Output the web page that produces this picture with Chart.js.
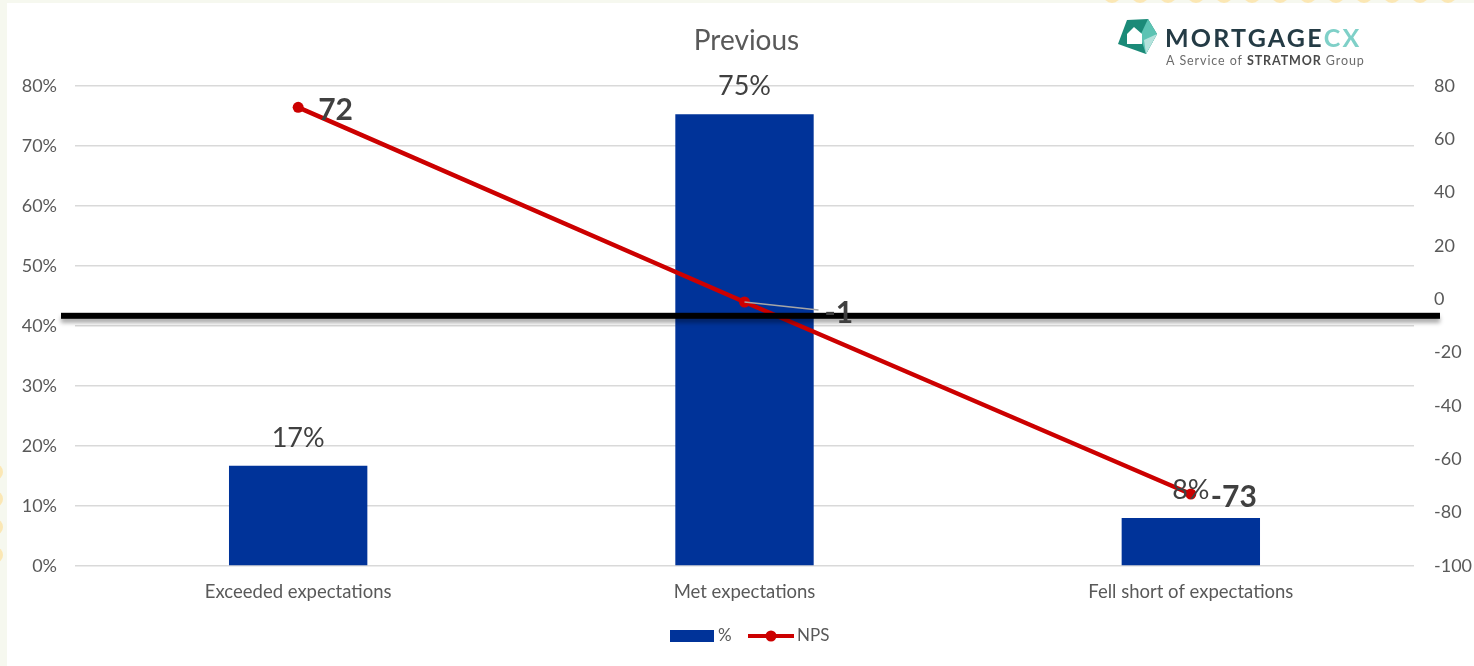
<!DOCTYPE html>
<html lang="en">
<head>
  <meta charset="UTF-8">
  <title>Previous</title>
  <script src="https://cdn.jsdelivr.net/npm/chart.js"></script>
  <style>
    html, body { margin: 0; padding: 0; background: #f6f8ef; }
    #chart { display: block; }
  </style>
</head>
<body>
  <canvas id="chart" width="1474" height="666"></canvas>
  <script>
    // data
    const categories = ['Exceeded expectations', 'Met expectations', 'Fell short of expectations'];
    const sharePct = [0.167, 0.753, 0.08];
    const shareLabels = ['17%', '75%', '8%'];
    const nps = [72, -1, -73];
    const leftTicks = [0, 0.1, 0.2, 0.3, 0.4, 0.5, 0.6, 0.7, 0.8];
    const rightTicks = [-100, -80, -60, -40, -20, 0, 20, 40, 60, 80];
    const referenceLinePct = 0.417;

    const FONT = 'Lato, "Open Sans", sans-serif';
    const BLUE = '#003399';
    const RED = '#cc0000';
    const TEXT = '#595959';

    const frame = {
      id: 'frame',
      beforeDraw(chart) {
        const c = chart.ctx;
        c.save();
        c.fillStyle = '#f6f8ef';
        c.fillRect(0, 0, chart.width, chart.height);
        // little yellow dots peeking in at the edges
        c.fillStyle = '#fbe7b4';
        for (let x = 1112; x < chart.width; x += 28) {
          c.beginPath(); c.arc(x, -6, 9, 0, Math.PI * 2); c.fill();
        }
        [472, 499, 527, 555].forEach(y => { c.beginPath(); c.arc(-5, y, 8, 0, Math.PI * 2); c.fill(); });
        c.fillStyle = '#ffffff';
        c.fillRect(7, 3, chart.width - 7, chart.height - 3);
        c.restore();
      }
    };

    const decorations = {
      id: 'decorations',
      afterDatasetsDraw(chart) {
        const c = chart.ctx;
        const area = chart.chartArea;
        const yL = chart.scales.y;
        c.save();

        // bar value labels
        const barMeta = chart.getDatasetMeta(0);
        c.font = '27px ' + FONT;
        c.fillStyle = '#404040';
        c.textAlign = 'center';
        c.textBaseline = 'middle';
        barMeta.data.forEach((bar, i) => {
          c.fillText(shareLabels[i], bar.x, bar.y - 28);
        });

        // black reference line with soft shadow
        const ly = yL.getPixelForValue(referenceLinePct);
        c.save();
        c.shadowColor = 'rgba(0,0,0,0.35)';
        c.shadowBlur = 4;
        c.shadowOffsetY = 4;
        c.fillStyle = '#000000';
        c.fillRect(area.left - 14, ly - 3, area.right - area.left + 40, 6);
        c.restore();

        // NPS labels
        const lineMeta = chart.getDatasetMeta(1);
        c.font = 'bold 30px ' + FONT;
        c.fillStyle = '#404040';
        c.textAlign = 'left';
        lineMeta.data.forEach((pt, i) => {
          let lx = pt.x + 20, lyy = pt.y + 3;
          if (i === 1) {
            lx = pt.x + 80; lyy = pt.y + 11;
            c.save();
            c.strokeStyle = '#a6a6a6';
            c.lineWidth = 1.5;
            c.beginPath(); c.moveTo(pt.x, pt.y); c.lineTo(lx - 6, pt.y + 8); c.stroke();
            c.restore();
          }
          c.fillText(String(nps[i]), lx, lyy);
        });

        c.restore();
      },
      afterDraw(chart) {
        const c = chart.ctx;
        const area = chart.chartArea;
        const cx = (area.left + area.right) / 2;
        c.save();

        // title
        c.font = '28px ' + FONT;
        c.fillStyle = TEXT;
        c.textAlign = 'center';
        c.textBaseline = 'middle';
        c.fillText('Previous', cx + 2, 41);

        // legend
        const legY = 636;
        c.fillStyle = BLUE;
        c.fillRect(670, legY - 6, 44, 12);
        c.font = '17px ' + FONT;
        c.fillStyle = TEXT;
        c.textAlign = 'left';
        c.fillText('%', 718, legY);
        c.strokeStyle = RED;
        c.lineWidth = 4;
        c.beginPath(); c.moveTo(748, legY); c.lineTo(794, legY); c.stroke();
        c.fillStyle = RED;
        c.beginPath(); c.arc(771, legY, 5.5, 0, Math.PI * 2); c.fill();
        c.fillStyle = TEXT;
        c.fillText('NPS', 797, legY);

        // logo
        c.fillStyle = '#1b8a78';
        c.beginPath();
        c.moveTo(1127, 20); c.lineTo(1148, 19); c.lineTo(1157, 34); c.lineTo(1146, 54); c.lineTo(1118, 44);
        c.closePath(); c.fill();
        c.fillStyle = '#5cc3b3';
        c.beginPath();
        c.moveTo(1148, 19); c.lineTo(1157, 34); c.lineTo(1146, 54); c.lineTo(1140, 36);
        c.closePath(); c.fill();
        c.fillStyle = '#b4e2dc';
        c.beginPath();
        c.moveTo(1157, 34); c.lineTo(1146, 54); c.lineTo(1144, 40);
        c.closePath(); c.fill();
        c.fillStyle = '#ffffff';
        c.beginPath();
        c.moveTo(1127, 34); c.lineTo(1134, 27); c.lineTo(1142, 34); c.lineTo(1142, 44); c.lineTo(1127, 44);
        c.closePath(); c.fill();

        c.textBaseline = 'alphabetic';
        c.font = 'bold 25px ' + FONT;
        c.letterSpacing = '2.2px';
        c.fillStyle = '#243b45';
        c.fillText('MORTGAGE', 1165, 47);
        const mw = c.measureText('MORTGAGE').width;
        c.fillStyle = '#7fd0c8';
        c.fillText('CX', 1165 + mw, 47);
        c.letterSpacing = '0.9px';
        c.font = '12.5px ' + FONT;
        c.fillStyle = '#6b6b6b';
        c.fillText('A Service of ', 1166, 65);
        let w = c.measureText('A Service of ').width;
        c.font = 'bold 12.5px ' + FONT;
        c.fillStyle = '#4a4a4a';
        c.fillText('STRATMOR', 1166 + w, 65);
        w += c.measureText('STRATMOR').width;
        c.font = '12.5px ' + FONT;
        c.fillStyle = '#6b6b6b';
        c.fillText(' Group', 1166 + w, 65);
        c.restore();
      }
    };

    new Chart(document.getElementById('chart'), {
      data: {
        labels: categories,
        datasets: [
          {
            type: 'bar',
            label: '%',
            data: sharePct,
            yAxisID: 'y',
            backgroundColor: BLUE,
            categoryPercentage: 1,
            barPercentage: 0.31,
            order: 2
          },
          {
            type: 'line',
            label: 'NPS',
            data: nps,
            yAxisID: 'y1',
            borderColor: RED,
            backgroundColor: RED,
            borderWidth: 4.5,
            pointRadius: 5.5,
            pointBackgroundColor: RED,
            pointBorderWidth: 0,
            tension: 0,
            order: 1
          }
        ]
      },
      options: {
        responsive: false,
        devicePixelRatio: 1,
        animation: false,
        layout: { padding: { top: 86, left: 0, right: 0, bottom: 0 } },
        plugins: { legend: { display: false }, tooltip: { enabled: false } },
        scales: {
          x: {
            grid: { display: false, drawTicks: false },
            border: { display: false },
            ticks: { color: TEXT, font: { family: FONT, size: 18.5 }, padding: 15 },
            afterFit: s => { s.height = 100; }
          },
          y: {
            position: 'left',
            min: 0,
            max: 0.8,
            afterBuildTicks: s => { s.ticks = leftTicks.map(v => ({ value: v })); },
            grid: { color: '#d9d9d9', lineWidth: 1.5, drawTicks: false },
            border: { display: false },
            ticks: {
              color: TEXT,
              font: { family: FONT, size: 18 },
              padding: 18,
              callback: v => Math.round(v * 100) + '%'
            },
            afterFit: s => { s.width = 75; }
          },
          y1: {
            position: 'right',
            min: -100,
            max: 80,
            afterBuildTicks: s => { s.ticks = rightTicks.map(v => ({ value: v })); },
            grid: { display: false, drawTicks: false },
            border: { display: false },
            ticks: { color: TEXT, font: { family: FONT, size: 18 }, padding: 20 },
            afterFit: s => { s.width = 60; }
          }
        }
      },
      plugins: [frame, decorations]
    });
  </script>
</body>
</html>
